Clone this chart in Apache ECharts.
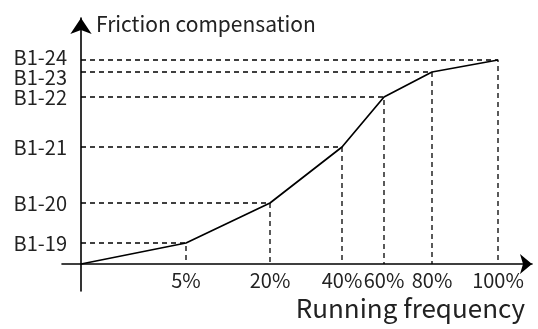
<!DOCTYPE html>
<html>
<head>
<meta charset="utf-8">
<script src="https://cdn.jsdelivr.net/npm/echarts@6/dist/echarts.min.js"></script>
<style>
html,body{margin:0;padding:0;background:#fff;}
#chart{width:538px;height:329px;}
</style>
</head>
<body>
<div id="chart"></div>
<script>
// Running-frequency breakpoints (schematic axis positions as drawn) and labels
const freqLabels = ['5%', '20%', '40%', '60%', '80%', '100%'];
const freqPos = [105, 189, 261, 303, 351, 417];
// Friction compensation parameters (schematic axis positions as drawn) and labels
const paramLabels = ['B1-19', 'B1-20', 'B1-21', 'B1-22', 'B1-23', 'B1-24'];
const compPos = [21, 61, 117, 167, 192, 204];

const FONT = '"Noto Sans CJK SC", "Noto Sans", sans-serif';

const mainData = [[0, 0]].concat(freqPos.map((x, i) => [x, compPos[i]]));

const guideSeries = freqPos.map((x, i) => ({
  type: 'line',
  data: [[0, compPos[i]], [x, compPos[i]], [x, 0]],
  symbol: 'none',
  silent: true,
  lineStyle: { color: '#000', width: 1.3, type: [5, 4] },
  z: 1
}));

const labelRich = {
  n: { fontFamily: FONT, fontSize: 20, color: '#222' },
  up: { fontFamily: FONT, fontSize: 20, color: '#222', padding: [0, 0, 6, 0] },
  dn: { fontFamily: FONT, fontSize: 20, color: '#222', padding: [10, 0, 0, 0] }
};
// B1-23 sits close to B1-24, so it is drawn by a twin axis to avoid label-overlap hiding
const mainIdx = [0, 1, 2, 3, 5];
const twinIdx = [4];

function yLabelFormatter(v) {
  const i = compPos.indexOf(v);
  if (i < 0) return '';
  const key = i === 5 ? 'up' : (i === 4 ? 'dn' : 'n');
  return '{' + key + '|' + paramLabels[i] + '}';
}

const baseY = {
  type: 'value',
  min: -27,
  max: 246,
  position: 'left',
  splitLine: { show: false },
  axisTick: { show: false }
};

const chart = echarts.init(document.getElementById('chart'), null, { renderer: 'canvas' });
chart.setOption({
  animation: false,
  backgroundColor: '#fff',
  title: {
    text: 'Running frequency',
    right: 13,
    top: 295,
    padding: 0,
    textStyle: { fontFamily: FONT, fontSize: 26, fontWeight: 'normal', color: '#222' }
  },
  grid: { left: 62, right: 6, top: 18, bottom: 38, containLabel: false, outerBoundsMode: 'none' },
  xAxis: {
    type: 'value',
    min: -19,
    max: 451,
    splitLine: { show: false },
    axisTick: { show: false },
    axisLine: {
      onZero: true,
      lineStyle: { color: '#000', width: 1.6 },
      symbol: ['none', 'arrow'],
      symbolSize: [15, 12]
    },
    axisLabel: {
      customValues: freqPos,
      formatter: v => freqLabels[freqPos.indexOf(v)] || '',
      fontFamily: FONT, fontSize: 20, color: '#222', margin: -21,
      hideOverlap: false, showMinLabel: true, showMaxLabel: true
    }
  },
  yAxis: [
    Object.assign({}, baseY, {
      name: 'Friction compensation',
      nameLocation: 'end',
      nameGap: -6,
      nameTextStyle: {
        fontFamily: FONT, fontSize: 21, color: '#222',
        align: 'left', verticalAlign: 'middle', padding: [0, 0, 0, 15]
      },
      axisLine: {
        onZero: true,
        lineStyle: { color: '#000', width: 1.6 },
        symbol: ['none', 'arrow'],
        symbolSize: [16, 16]
      },
      axisLabel: {
        customValues: mainIdx.map(i => compPos[i]),
        formatter: yLabelFormatter,
        rich: labelRich,
        margin: -5,
        hideOverlap: false, showMinLabel: true, showMaxLabel: true
      }
    }),
    Object.assign({}, baseY, {
      offset: 0,
      axisLine: { show: false },
      axisLabel: {
        customValues: twinIdx.map(i => compPos[i]),
        formatter: yLabelFormatter,
        rich: labelRich,
        margin: -5,
        hideOverlap: false, showMinLabel: true, showMaxLabel: true
      }
    })
  ],
  series: guideSeries.concat([{
    type: 'line',
    data: mainData,
    symbol: 'none',
    silent: true,
    lineStyle: { color: '#000', width: 1.7 },
    z: 3
  }])
});
</script>
</body>
</html>
